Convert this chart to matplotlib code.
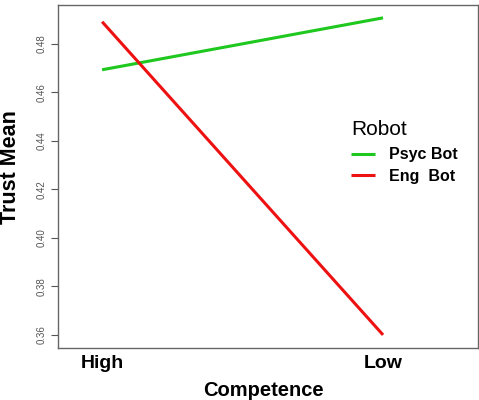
import matplotlib
matplotlib.use("Agg")
import matplotlib.pyplot as plt

plt.rcParams['font.family'] = ['Liberation Sans', 'DejaVu Sans']

competence = ['High', 'Low']
psyc_bot = [0.4693, 0.4907]
eng_bot = [0.4891, 0.3600]
y_ticks = [0.36, 0.38, 0.40, 0.42, 0.44, 0.46, 0.48]

fig = plt.figure(figsize=(4.79, 4.0), dpi=100)
ax = fig.add_axes([58 / 479, 52 / 400, 420 / 479, 343 / 400])

x = [1, 2]
ax.plot(x, psyc_bot, color='#1ec81e', lw=2.2, label='Psyc Bot', solid_capstyle='butt')
ax.plot(x, eng_bot, color='#ee1111', lw=2.2, label='Eng  Bot', solid_capstyle='butt')

ax.set_xlim(0.843, 2.338)
ax.set_ylim(0.3546, 0.496)
ax.set_yticks(y_ticks)
ax.set_yticklabels(['%.2f' % v for v in y_ticks], rotation=90, va='center',
                   fontsize=7, color='#555555')
ax.tick_params(axis='y', length=5, color='#555555', width=0.8, pad=3)
ax.set_xticks(x)
ax.set_xticklabels(competence, fontsize=14, fontweight='bold')
ax.tick_params(axis='x', length=0, pad=5)
for s in ax.spines.values():
    s.set_color('#666666')
    s.set_linewidth(1.0)

fig.text(263 / 479, 10 / 400, 'Competence', ha='center', va='center',
         fontsize=14.5, fontweight='bold')
fig.text(11 / 479, 1 - 167 / 400, 'Trust Mean', ha='center', va='center',
         rotation=90, fontsize=15.5, fontweight='bold')

leg = ax.legend(loc='upper left', bbox_to_anchor=(0.679, 0.688),
                frameon=False, title='Robot', handlelength=1.5, handletextpad=0.9,
                prop={'size': 11.5, 'weight': 'bold'}, title_fontsize=15,
                borderpad=0, labelspacing=0.4)
leg._legend_box.align = 'left'
leg._legend_box.sep = 6

fig.savefig('out.png', dpi=100)
